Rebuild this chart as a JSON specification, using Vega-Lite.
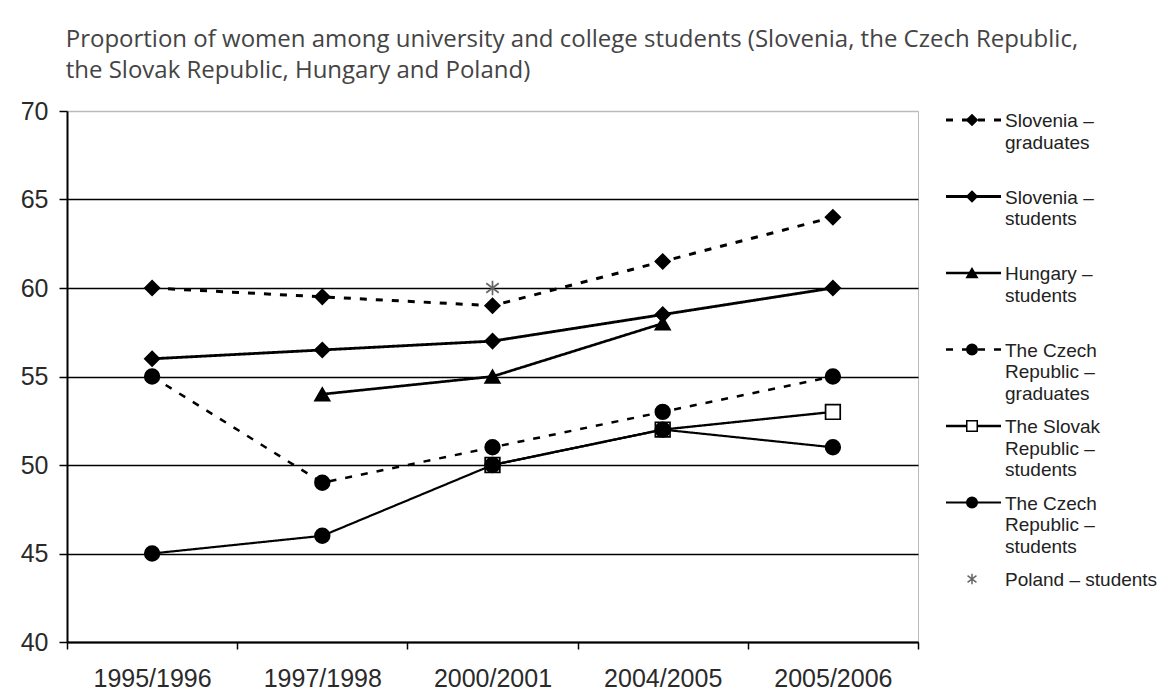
{
  "$schema": "https://vega.github.io/schema/vega-lite/v6.json",
  "padding": {"left": 19, "top": 27, "right": 4, "bottom": 0},
  "background": "white",
  "title": {
    "text": ["Proportion of women among university and college students (Slovenia, the Czech Republic,", "the Slovak Republic, Hungary and Poland)"],
    "anchor": "start",
    "dx": 46,
    "offset": 16,
    "font": "Open Sans",
    "fontSize": 24,
    "fontWeight": "normal",
    "lineHeight": 31,
    "color": "#444"
  },
  "datasets": {
    "shares": [
      {"series": "Slovenia – graduates", "year": "1995/1996", "value": 60},
      {"series": "Slovenia – graduates", "year": "1997/1998", "value": 59.5},
      {"series": "Slovenia – graduates", "year": "2000/2001", "value": 59},
      {"series": "Slovenia – graduates", "year": "2004/2005", "value": 61.5},
      {"series": "Slovenia – graduates", "year": "2005/2006", "value": 64},
      {"series": "Slovenia – students", "year": "1995/1996", "value": 56},
      {"series": "Slovenia – students", "year": "1997/1998", "value": 56.5},
      {"series": "Slovenia – students", "year": "2000/2001", "value": 57},
      {"series": "Slovenia – students", "year": "2004/2005", "value": 58.5},
      {"series": "Slovenia – students", "year": "2005/2006", "value": 60},
      {"series": "Hungary – students", "year": "1997/1998", "value": 54},
      {"series": "Hungary – students", "year": "2000/2001", "value": 55},
      {"series": "Hungary – students", "year": "2004/2005", "value": 58},
      {"series": "The Czech Republic – graduates", "year": "1995/1996", "value": 55},
      {"series": "The Czech Republic – graduates", "year": "1997/1998", "value": 49},
      {"series": "The Czech Republic – graduates", "year": "2000/2001", "value": 51},
      {"series": "The Czech Republic – graduates", "year": "2004/2005", "value": 53},
      {"series": "The Czech Republic – graduates", "year": "2005/2006", "value": 55},
      {"series": "The Slovak Republic – students", "year": "2000/2001", "value": 50},
      {"series": "The Slovak Republic – students", "year": "2004/2005", "value": 52},
      {"series": "The Slovak Republic – students", "year": "2005/2006", "value": 53},
      {"series": "The Czech Republic – students", "year": "1995/1996", "value": 45},
      {"series": "The Czech Republic – students", "year": "1997/1998", "value": 46},
      {"series": "The Czech Republic – students", "year": "2000/2001", "value": 50},
      {"series": "The Czech Republic – students", "year": "2004/2005", "value": 52},
      {"series": "The Czech Republic – students", "year": "2005/2006", "value": 51},
      {"series": "Poland – students", "year": "2000/2001", "value": 60}
    ],
    "key": [
      {"series": "Slovenia – graduates", "label": "Slovenia –\ngraduates"},
      {"series": "Slovenia – students", "label": "Slovenia –\nstudents"},
      {"series": "Hungary – students", "label": "Hungary –\nstudents"},
      {"series": "The Czech Republic – graduates", "label": "The Czech\nRepublic –\ngraduates"},
      {"series": "The Slovak Republic – students", "label": "The Slovak\nRepublic –\nstudents"},
      {"series": "The Czech Republic – students", "label": "The Czech\nRepublic –\nstudents"},
      {"series": "Poland – students", "label": "Poland – students"}
    ]
  },
  "spacing": 20,
  "hconcat": [
    {
      "width": 851,
      "height": 531,
      "view": {"stroke": "#bbb", "strokeWidth": 1},
      "data": {"name": "shares"},
      "encoding": {
        "x": {
          "field": "year",
          "type": "ordinal",
          "sort": ["1995/1996", "1997/1998", "2000/2001", "2004/2005", "2005/2006"],
          "scale": {"type": "band", "paddingInner": 0, "paddingOuter": 0},
          "axis": {
            "title": null,
            "labelAngle": 0,
            "tickBand": "extent",
            "tickSize": 7,
            "tickColor": "#000",
            "tickWidth": 1.5,
            "domainColor": "#000",
            "domainWidth": 2,
            "labelFont": "Liberation Sans",
            "labelFontSize": 25,
            "labelColor": "#2a2a2a",
            "labelPadding": 17,
            "grid": false
          }
        },
        "y": {
          "field": "value",
          "type": "quantitative",
          "scale": {"domain": [40, 70], "nice": false, "zero": false},
          "axis": {
            "title": null,
            "values": [40, 45, 50, 55, 60, 65, 70],
            "tickSize": 8,
            "tickColor": "#000",
            "tickWidth": 1.5,
            "domainColor": "#000",
            "domainWidth": 2,
            "labelFont": "Liberation Sans",
            "labelFontSize": 25,
            "labelColor": "#2a2a2a",
            "labelPadding": 11,
            "grid": true,
            "gridColor": {"condition": {"test": "datum.value == 70", "value": "#bbb"}, "value": "#000"},
            "gridWidth": 1.6
          }
        }
      },
      "layer": [
        {
          "mark": {"type": "line", "color": "#000"},
          "encoding": {
            "detail": {"field": "series"},
            "strokeDash": {
              "field": "series",
              "type": "nominal",
              "scale": {
                "domain": ["Slovenia – graduates", "Slovenia – students", "Hungary – students", "The Czech Republic – graduates", "The Slovak Republic – students", "The Czech Republic – students", "Poland – students"],
                "range": [[7, 9], [1, 0], [1, 0], [7, 9], [1, 0], [1, 0], [1, 0]]
              },
              "legend": null
            },
            "strokeWidth": {
              "field": "series",
              "type": "ordinal",
              "scale": {
                "domain": ["Slovenia – graduates", "Slovenia – students", "Hungary – students", "The Czech Republic – graduates", "The Slovak Republic – students", "The Czech Republic – students", "Poland – students"],
                "range": [3, 2, 2, 3, 2, 2, 2]
              },
              "legend": null
            }
          }
        },
        {
          "mark": {"type": "point", "filled": true, "size": 215, "strokeWidth": 1.7, "opacity": 1},
          "encoding": {
            "shape": {
              "field": "series",
              "type": "nominal",
              "scale": {
                "domain": ["Slovenia – graduates", "Slovenia – students", "Hungary – students", "The Czech Republic – graduates", "The Slovak Republic – students", "The Czech Republic – students", "Poland – students"],
                "range": ["diamond", "diamond", "triangle-up", "circle", "square", "circle", "M0,-1L0,1M-0.85,-0.65L0.85,0.65M-0.85,0.65L0.85,-0.65"]
              },
              "legend": null
            },
            "fill": {
              "field": "series",
              "type": "nominal",
              "scale": {
                "domain": ["Slovenia – graduates", "Slovenia – students", "Hungary – students", "The Czech Republic – graduates", "The Slovak Republic – students", "The Czech Republic – students", "Poland – students"],
                "range": ["#000", "#000", "#000", "#000", "#fff", "#000", "transparent"]
              },
              "legend": null
            },
            "stroke": {
              "field": "series",
              "type": "nominal",
              "scale": {
                "domain": ["Slovenia – graduates", "Slovenia – students", "Hungary – students", "The Czech Republic – graduates", "The Slovak Republic – students", "The Czech Republic – students", "Poland – students"],
                "range": ["#000", "#000", "#000", "#000", "#000", "#000", "#666"]
              },
              "legend": null
            }
          }
        }
      ]
    },
    {
      "width": 220,
      "height": 531,
      "view": {"stroke": null},
      "data": {"name": "key"},
      "encoding": {
        "y": {
          "field": "series",
          "type": "nominal",
          "sort": null,
          "scale": {"type": "point", "range": [9, 468], "padding": 0},
          "axis": null
        }
      },
      "layer": [
        {
          "transform": [{"filter": "datum.series != 'Poland – students'"}],
          "mark": {"type": "rule", "color": "#000"},
          "encoding": {
            "x": {"datum": 6, "type": "quantitative", "scale": {"domain": [0, 220], "nice": false, "zero": false}, "axis": null},
            "x2": {"datum": 61},
            "strokeDash": {
              "field": "series",
              "type": "nominal",
              "scale": {
                "domain": ["Slovenia – graduates", "Slovenia – students", "Hungary – students", "The Czech Republic – graduates", "The Slovak Republic – students", "The Czech Republic – students", "Poland – students"],
                "range": [[7, 9], [1, 0], [1, 0], [7, 9], [1, 0], [1, 0], [1, 0]]
              },
              "legend": null
            },
            "strokeWidth": {
              "field": "series",
              "type": "ordinal",
              "scale": {
                "domain": ["Slovenia – graduates", "Slovenia – students", "Hungary – students", "The Czech Republic – graduates", "The Slovak Republic – students", "The Czech Republic – students", "Poland – students"],
                "range": [3, 2, 2, 3, 2, 2, 2]
              },
              "legend": null
            }
          }
        },
        {
          "mark": {"type": "point", "filled": true, "size": 110, "strokeWidth": 1.5, "opacity": 1},
          "encoding": {
            "x": {"datum": 32, "type": "quantitative"},
            "shape": {
              "field": "series",
              "type": "nominal",
              "scale": {
                "domain": ["Slovenia – graduates", "Slovenia – students", "Hungary – students", "The Czech Republic – graduates", "The Slovak Republic – students", "The Czech Republic – students", "Poland – students"],
                "range": ["diamond", "diamond", "triangle-up", "circle", "square", "circle", "M0,-1L0,1M-0.85,-0.65L0.85,0.65M-0.85,0.65L0.85,-0.65"]
              },
              "legend": null
            },
            "fill": {
              "field": "series",
              "type": "nominal",
              "scale": {
                "domain": ["Slovenia – graduates", "Slovenia – students", "Hungary – students", "The Czech Republic – graduates", "The Slovak Republic – students", "The Czech Republic – students", "Poland – students"],
                "range": ["#000", "#000", "#000", "#000", "#fff", "#000", "transparent"]
              },
              "legend": null
            },
            "stroke": {
              "field": "series",
              "type": "nominal",
              "scale": {
                "domain": ["Slovenia – graduates", "Slovenia – students", "Hungary – students", "The Czech Republic – graduates", "The Slovak Republic – students", "The Czech Republic – students", "Poland – students"],
                "range": ["#000", "#000", "#000", "#000", "#000", "#000", "#444"]
              },
              "legend": null
            }
          }
        },
        {
          "mark": {
            "type": "text",
            "align": "left",
            "baseline": "alphabetic",
            "dy": 7,
            "font": "Liberation Sans",
            "fontSize": 19,
            "lineHeight": 21.5,
            "lineBreak": "\n",
            "color": "#222"
          },
          "encoding": {
            "x": {"datum": 65, "type": "quantitative"},
            "text": {"field": "label"}
          }
        }
      ]
    }
  ]
}
